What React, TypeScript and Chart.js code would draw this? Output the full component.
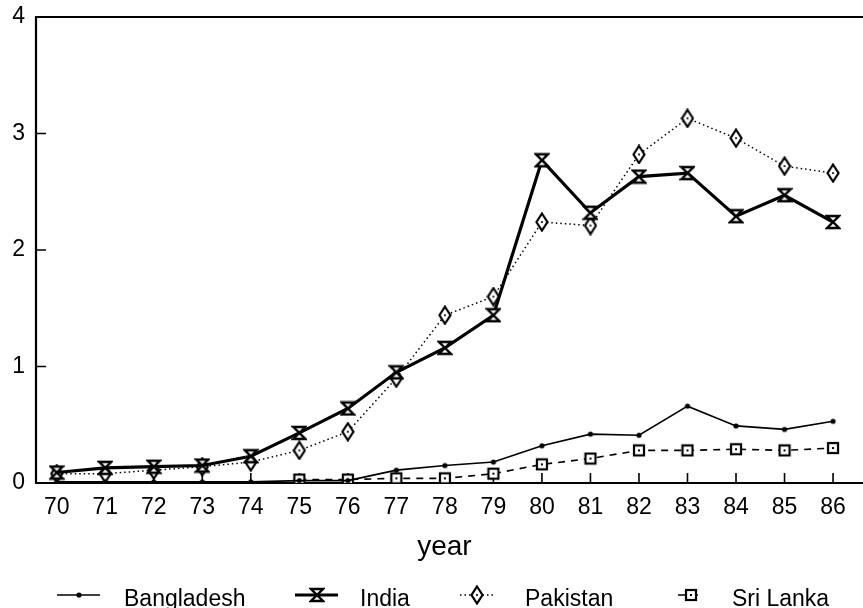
import React, { useEffect, useRef } from "react";
import { Chart, registerables } from "chart.js";

Chart.register(...registerables);

const years = [70, 71, 72, 73, 74, 75, 76, 77, 78, 79, 80, 81, 82, 83, 84, 85, 86];
const yTickValues = [0, 1, 2, 3, 4];
const seriesNames = ["Bangladesh", "India", "Pakistan", "Sri Lanka"];
const bangladesh = [0.01, 0.01, 0.01, 0.01, 0.01, 0.02, 0.02, 0.11, 0.15, 0.18, 0.32, 0.42, 0.41, 0.66, 0.49, 0.46, 0.53];
const india = [0.09, 0.13, 0.14, 0.15, 0.23, 0.43, 0.64, 0.95, 1.16, 1.44, 2.77, 2.32, 2.63, 2.66, 2.29, 2.47, 2.24];
const pakistan = [0.08, 0.08, 0.11, 0.14, 0.18, 0.28, 0.44, 0.9, 1.44, 1.6, 2.24, 2.21, 2.82, 3.13, 2.96, 2.72, 2.66];
const sriLanka = [null, null, null, null, null, 0.03, 0.03, 0.04, 0.04, 0.08, 0.16, 0.21, 0.28, 0.28, 0.29, 0.28, 0.3];
const xTitle = "year";

const FONT = "'Liberation Sans', Arial, Helvetica, sans-serif";

function makeCanvas(w: number, h: number) {
  const c = document.createElement("canvas");
  c.width = w;
  c.height = h;
  return c;
}

function makeHourglass() {
  const c = makeCanvas(16, 16);
  const g = c.getContext("2d")!;
  g.lineWidth = 2.4;
  g.strokeStyle = "#000";
  g.fillStyle = "#fff";
  g.lineJoin = "miter";
  g.beginPath();
  g.moveTo(2, 2);
  g.lineTo(14, 2);
  g.lineTo(2, 14);
  g.lineTo(14, 14);
  g.closePath();
  g.fill();
  g.stroke();
  return c;
}

function makeDiamond() {
  const c = makeCanvas(14, 20);
  const g = c.getContext("2d")!;
  g.lineWidth = 2.2;
  g.strokeStyle = "#000";
  g.fillStyle = "#fff";
  g.beginPath();
  g.moveTo(7, 1.5);
  g.lineTo(12.5, 10);
  g.lineTo(7, 18.5);
  g.lineTo(1.5, 10);
  g.closePath();
  g.fill();
  g.stroke();
  g.fillStyle = "#000";
  g.beginPath();
  g.arc(7, 10, 1.1, 0, Math.PI * 2);
  g.fill();
  return c;
}

function makeSquare() {
  const c = makeCanvas(14, 14);
  const g = c.getContext("2d")!;
  g.lineWidth = 2.2;
  g.strokeStyle = "#000";
  g.fillStyle = "#fff";
  g.fillRect(2, 2, 10, 10);
  g.strokeRect(2, 2, 10, 10);
  g.fillStyle = "#000";
  g.fillRect(6, 6, 2, 2);
  return c;
}

function makeDot() {
  const c = makeCanvas(8, 8);
  const g = c.getContext("2d")!;
  g.fillStyle = "#000";
  g.beginPath();
  g.arc(4, 4, 2.6, 0, Math.PI * 2);
  g.fill();
  return c;
}

// legend layout: sample start, sample width, text start
const legendLayout = [
  { sx: 57, sw: 43, tx: 124 },
  { sx: 295, sw: 43, tx: 360 },
  { sx: 460, sw: 34, tx: 525 },
  { sx: 678, sw: 26, tx: 732 },
];

const framePlugin = {
  id: "frameTicks",
  beforeDatasetsDraw(chart: any) {
    const { ctx, chartArea } = chart;
    const xs = chart.scales.x;
    const ys = chart.scales.y;
    ctx.save();
    ctx.strokeStyle = "#000";
    ctx.lineWidth = 2.2;
    ctx.beginPath();
    ctx.moveTo(chart.width, chartArea.top);
    ctx.lineTo(chartArea.left, chartArea.top);
    ctx.lineTo(chartArea.left, chartArea.bottom);
    ctx.lineTo(chart.width, chartArea.bottom);
    ctx.stroke();
    ctx.lineWidth = 1.6;
    ctx.beginPath();
    for (const v of years) {
      const px = xs.getPixelForValue(v);
      ctx.moveTo(px, chartArea.bottom);
      ctx.lineTo(px, chartArea.bottom - 10);
    }
    for (const v of yTickValues) {
      if (v === 0 || v === 4) continue;
      const py = ys.getPixelForValue(v);
      ctx.moveTo(chartArea.left, py);
      ctx.lineTo(chartArea.left + 10, py);
    }
    ctx.stroke();
    ctx.restore();
  },
  afterDraw(chart: any) {
    const { ctx } = chart;
    const y = 595;
    ctx.save();
    chart.data.datasets.forEach((ds: any, i: number) => {
      const L = legendLayout[i];
      ctx.strokeStyle = "#000";
      ctx.lineWidth = ds.borderWidth;
      ctx.setLineDash(ds.borderDash || []);
      ctx.beginPath();
      ctx.moveTo(L.sx, y);
      ctx.lineTo(L.sx + L.sw, y);
      ctx.stroke();
      ctx.setLineDash([]);
      const img = ds.pointStyle as HTMLCanvasElement;
      ctx.drawImage(img, Math.round(L.sx + L.sw / 2 - img.width / 2), Math.round(y - img.height / 2));
      ctx.fillStyle = "#000";
      ctx.font = `23px ${FONT}`;
      ctx.textAlign = "left";
      ctx.textBaseline = "alphabetic";
      ctx.fillText(ds.label, L.tx, 606);
    });
    ctx.restore();
  },
};

export default function App() {
  const ref = useRef<HTMLCanvasElement>(null);

  useEffect(() => {
    const canvas = ref.current!;
    const toPts = (arr: (number | null)[]) => years.map((x, i) => ({ x, y: arr[i] }));
    const chart = new Chart(canvas, {
      type: "line",
      data: {
        datasets: [
          {
            label: seriesNames[0],
            data: toPts(bangladesh),
            borderColor: "#000",
            borderWidth: 1.7,
            borderDash: [],
            pointStyle: makeDot() as any,
            pointRadius: 3,
            tension: 0,
          },
          {
            label: seriesNames[1],
            data: toPts(india),
            borderColor: "#000",
            borderWidth: 3.2,
            borderDash: [],
            pointStyle: makeHourglass() as any,
            pointRadius: 7,
            tension: 0,
          },
          {
            label: seriesNames[2],
            data: toPts(pakistan),
            borderColor: "#000",
            borderWidth: 1.5,
            borderDash: [1.5, 3],
            pointStyle: makeDiamond() as any,
            pointRadius: 7,
            tension: 0,
          },
          {
            label: seriesNames[3],
            data: toPts(sriLanka),
            borderColor: "#000",
            borderWidth: 1.6,
            borderDash: [7, 6],
            pointStyle: makeSquare() as any,
            pointRadius: 6,
            tension: 0,
            spanGaps: false,
          },
        ] as any,
      },
      options: {
        responsive: false,
        animation: false,
        events: [],
        layout: { padding: { top: 17, right: 0, bottom: 0, left: 0 } },
        plugins: {
          legend: { display: false },
          tooltip: { enabled: false },
        },
        scales: {
          x: {
            type: "linear",
            min: 69.573,
            max: 86.407,
            grid: { display: false, drawTicks: false },
            border: { display: false },
            afterBuildTicks: (s: any) => {
              s.ticks = years.map((v) => ({ value: v }));
            },
            afterFit: (s: any) => {
              s.height = 125;
              s.paddingLeft = 0;
              s.paddingRight = 0;
            },
            ticks: {
              autoSkip: false,
              maxRotation: 0,
              padding: 11,
              color: "#000",
              font: { family: FONT, size: 23 },
              callback: (v: any) => String(v),
            },
            title: {
              display: true,
              text: xTitle,
              color: "#000",
              font: { family: FONT, size: 28 },
              padding: { top: 0, bottom: 44 },
            },
          },
          y: {
            min: 0,
            max: 4,
            grid: { display: false, drawTicks: false },
            border: { display: false },
            afterBuildTicks: (s: any) => {
              s.ticks = yTickValues.map((v) => ({ value: v }));
            },
            afterFit: (s: any) => {
              s.width = 36;
              s.paddingTop = 0;
              s.paddingBottom = 0;
            },
            ticks: {
              padding: 11,
              color: "#000",
              font: { family: FONT, size: 23 },
              callback: (v: any) => String(v),
            },
          },
        },
      },
      plugins: [framePlugin],
    } as any);
    return () => chart.destroy();
  }, []);

  return (
    <div style={{ position: "fixed", left: 0, top: 0, width: 863, height: 608, background: "#fff" }}>
      <canvas ref={ref} width={863} height={608} />
    </div>
  );
}
